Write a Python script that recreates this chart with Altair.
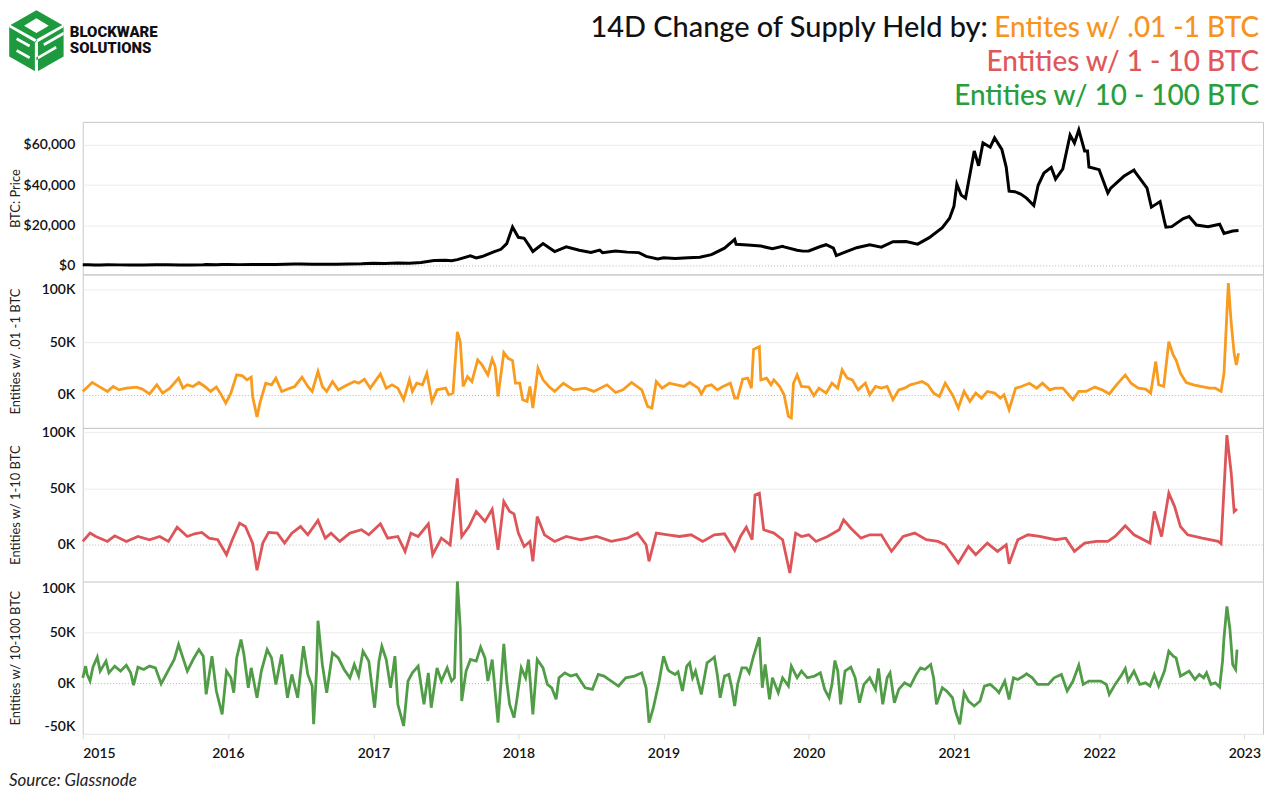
import altair as alt
import pandas as pd

# ---------------- data ----------------
# (decimal year, BTC price in USD)
PRICE = [
    (2015.00, 315), (2015.04, 270), (2015.08, 230), (2015.12, 240), (2015.17, 255), (2015.25, 245),
    (2015.33, 235), (2015.42, 225), (2015.50, 260), (2015.54, 285), (2015.58, 280), (2015.67, 230),
    (2015.75, 240), (2015.83, 320), (2015.85, 380), (2015.92, 360), (2015.96, 430), (2016.00, 430),
    (2016.08, 370), (2016.17, 435), (2016.25, 415), (2016.33, 450), (2016.46, 670), (2016.50, 670),
    (2016.58, 600), (2016.67, 575), (2016.75, 610), (2016.83, 700), (2016.92, 750), (2017.00, 1000),
    (2017.08, 970), (2017.17, 1190), (2017.25, 1080), (2017.33, 1420), (2017.42, 2400), (2017.50, 2500),
    (2017.54, 2300), (2017.58, 2850), (2017.67, 4700), (2017.71, 3700), (2017.75, 4400), (2017.83, 6700),
    (2017.88, 8000), (2017.92, 10800), (2017.96, 19100), (2018.00, 14000), (2018.04, 13500),
    (2018.08, 9200), (2018.10, 6900), (2018.17, 10900), (2018.25, 6900), (2018.33, 9200), (2018.42, 7500),
    (2018.50, 6400), (2018.56, 7600), (2018.58, 6300), (2018.67, 7100), (2018.75, 6600), (2018.83, 6350),
    (2018.88, 4500), (2018.96, 3200), (2019.00, 3800), (2019.08, 3450), (2019.17, 3850), (2019.25, 4100),
    (2019.33, 5350), (2019.42, 8550), (2019.49, 12900), (2019.50, 10500), (2019.58, 10100),
    (2019.67, 9600), (2019.75, 8300), (2019.82, 9500), (2019.83, 9200), (2019.92, 7500), (2019.96, 7100),
    (2020.00, 7200), (2020.08, 9400), (2020.12, 10300), (2020.17, 8600), (2020.19, 4900), (2020.25, 6600),
    (2020.33, 8800), (2020.42, 10200), (2020.50, 9100), (2020.58, 11800), (2020.67, 11900),
    (2020.75, 10600), (2020.83, 13800), (2020.92, 18800), (2020.97, 23500), (2021.00, 29400),
    (2021.02, 40500), (2021.05, 35000), (2021.08, 33500), (2021.14, 57000), (2021.17, 49600),
    (2021.20, 61000), (2021.25, 58900), (2021.28, 63500), (2021.33, 57800), (2021.36, 49000),
    (2021.38, 37000), (2021.42, 36700), (2021.46, 35500), (2021.50, 33500), (2021.55, 29800),
    (2021.58, 39900), (2021.62, 46000), (2021.67, 48800), (2021.70, 43000), (2021.75, 48100),
    (2021.80, 65000), (2021.83, 61000), (2021.86, 67500), (2021.90, 57000), (2021.92, 57000),
    (2021.93, 49000), (2022.00, 47700), (2022.06, 36000), (2022.08, 38500), (2022.17, 44400),
    (2022.24, 47500), (2022.25, 46300), (2022.33, 38500), (2022.36, 29000), (2022.42, 31800),
    (2022.45, 22000), (2022.46, 19000), (2022.50, 19300), (2022.58, 23300), (2022.62, 24300),
    (2022.67, 20100), (2022.75, 19300), (2022.83, 20500), (2022.86, 15900), (2022.92, 17100),
    (2022.96, 17400),
]

# (decimal year, 14D change in thousands of BTC) for entities with .01 - 1 BTC
SMALL = [
    (2015.00, 3.2), (2015.065, 11.7), (2015.105, 8.5), (2015.17, 3.2), (2015.21, 7.9), (2015.25, 4.7),
    (2015.30, 6.3), (2015.37, 7.3), (2015.41, 5.4), (2015.46, 0.9), (2015.51, 9.5), (2015.55, 1.6),
    (2015.60, 6.3), (2015.66, 15.8), (2015.69, 6.3), (2015.72, 9.5), (2015.76, 7.9), (2015.80, 11.7),
    (2015.84, 7.9), (2015.88, 3.2), (2015.92, 7.3), (2015.95, 0.9), (2015.985, -7.9), (2016.02, 1.6),
    (2016.06, 18.9), (2016.10, 18.0), (2016.13, 14.2), (2016.16, 16.7), (2016.17, -1.6), (2016.20, -21.1),
    (2016.22, -7.9), (2016.26, 11.0), (2016.30, 9.5), (2016.33, 15.8), (2016.37, 3.2), (2016.41, 5.4),
    (2016.46, 7.9), (2016.51, 16.7), (2016.55, 7.9), (2016.58, 3.2), (2016.62, 22.1), (2016.65, 7.9),
    (2016.68, 3.2), (2016.72, 12.6), (2016.76, 4.7), (2016.80, 7.9), (2016.87, 12.6), (2016.90, 11.0),
    (2016.94, 14.8), (2016.98, 6.3), (2017.05, 19.9), (2017.09, 6.3), (2017.13, 9.5), (2017.17, 6.3),
    (2017.21, -4.7), (2017.25, 14.2), (2017.27, 3.2), (2017.30, 11.0), (2017.34, 9.5), (2017.37, 20.5),
    (2017.405, -6.3), (2017.44, 4.7), (2017.50, 6.3), (2017.52, 0.0), (2017.55, 1.6), (2017.58, 59.9),
    (2017.60, 50.5), (2017.62, 7.9), (2017.65, 17.4), (2017.68, 12.6), (2017.72, 33.1), (2017.75, 28.4),
    (2017.79, 18.9), (2017.82, 33.8), (2017.84, 26.8), (2017.86, -1.6), (2017.90, 40.1), (2017.93, 34.7),
    (2017.96, 32.5), (2017.98, 11.0), (2018.01, 11.0), (2018.03, -4.7), (2018.06, -6.3), (2018.08, 7.9),
    (2018.10, -12.6), (2018.135, 25.2), (2018.17, 14.2), (2018.21, 7.9), (2018.25, 3.2), (2018.31, 11.0),
    (2018.38, 4.7), (2018.46, 6.3), (2018.52, 3.2), (2018.61, 9.5), (2018.67, 2.2), (2018.72, 4.7),
    (2018.78, 11.7), (2018.85, 4.7), (2018.89, -11.0), (2018.92, -12.6), (2018.95, 12.6), (2018.99, 6.3),
    (2019.04, 11.0), (2019.09, 9.5), (2019.14, 7.9), (2019.18, 11.7), (2019.24, 6.3), (2019.26, 0.9),
    (2019.29, 7.9), (2019.33, 9.5), (2019.37, 4.7), (2019.41, 7.9), (2019.46, 11.0), (2019.49, -3.2),
    (2019.51, -3.2), (2019.545, 14.8), (2019.58, 15.8), (2019.605, 6.3), (2019.62, 43.2), (2019.66, 45.7),
    (2019.67, 14.2), (2019.71, 15.8), (2019.74, 9.5), (2019.76, 14.2), (2019.80, 7.9), (2019.83, 0.0),
    (2019.86, -20.5), (2019.88, -22.1), (2019.895, 11.0), (2019.92, 18.9), (2019.95, 7.9), (2020.00, 7.3),
    (2020.035, -0.9), (2020.07, 6.3), (2020.12, 1.6), (2020.16, 11.0), (2020.20, 6.3), (2020.23, 23.7),
    (2020.265, 15.8), (2020.30, 14.2), (2020.34, 4.7), (2020.39, 11.0), (2020.42, 0.0), (2020.46, 7.9),
    (2020.50, 6.3), (2020.54, 7.9), (2020.58, -4.7), (2020.62, 4.7), (2020.66, 6.3), (2020.70, 9.5),
    (2020.74, 11.0), (2020.78, 12.6), (2020.82, 9.5), (2020.86, 1.6), (2020.90, -1.6), (2020.94, 11.0),
    (2020.99, 0.0), (2021.03, -12.6), (2021.07, 3.2), (2021.11, -6.3), (2021.15, 1.6), (2021.19, -3.2),
    (2021.23, 3.2), (2021.28, 1.6), (2021.32, -3.2), (2021.345, 0.0), (2021.38, -14.2), (2021.425, 6.3),
    (2021.465, 7.9), (2021.52, 11.0), (2021.57, 6.3), (2021.61, 11.0), (2021.66, 4.7), (2021.70, 6.3),
    (2021.75, 6.3), (2021.82, -4.7), (2021.86, 3.2), (2021.91, 3.2), (2021.97, 7.3), (2022.02, 4.7),
    (2022.07, 0.9), (2022.12, 9.5), (2022.18, 18.9), (2022.22, 11.0), (2022.27, 6.3), (2022.32, 5.4),
    (2022.355, 1.6), (2022.39, 31.6), (2022.41, 9.5), (2022.445, 7.9), (2022.48, 50.5), (2022.51, 37.9),
    (2022.53, 33.1), (2022.56, 20.5), (2022.60, 11.7), (2022.65, 9.5), (2022.70, 7.9), (2022.76, 6.3),
    (2022.80, 6.3), (2022.84, 3.2), (2022.86, 20.5), (2022.89, 106.3), (2022.91, 67.8), (2022.93, 39.4),
    (2022.945, 28.4), (2022.96, 39.4),
]

# entities with 1 - 10 BTC (thousands of BTC)
MID = [
    (2015.00, 2.7), (2015.05, 10.1), (2015.09, 7.1), (2015.17, 2.7), (2015.22, 7.7), (2015.30, 2.7),
    (2015.38, 7.1), (2015.46, 4.2), (2015.53, 7.1), (2015.59, 2.7), (2015.65, 15.4), (2015.72, 7.1),
    (2015.77, 9.5), (2015.82, 10.7), (2015.87, 5.6), (2015.93, 4.2), (2015.99, -9.2), (2016.03, 4.2),
    (2016.08, 19.0), (2016.12, 16.0), (2016.17, 1.2), (2016.20, -23.1), (2016.24, 1.2), (2016.28, 10.7),
    (2016.34, 10.1), (2016.39, 1.2), (2016.44, 10.1), (2016.50, 16.0), (2016.55, 8.6), (2016.62, 21.4),
    (2016.67, 5.6), (2016.71, 10.1), (2016.77, 2.7), (2016.84, 10.1), (2016.92, 13.1), (2016.97, 8.6),
    (2017.05, 18.4), (2017.10, 5.6), (2017.17, 7.1), (2017.22, -6.2), (2017.26, 10.1), (2017.31, 7.1),
    (2017.38, 18.4), (2017.41, -9.2), (2017.47, 5.6), (2017.53, -0.3), (2017.58, 59.0), (2017.61, 7.1),
    (2017.66, 16.0), (2017.71, 29.4), (2017.77, 20.5), (2017.82, 31.4), (2017.86, -4.7), (2017.90, 38.3),
    (2017.94, 29.4), (2017.97, 27.3), (2018.00, 10.1), (2018.04, -1.8), (2018.08, 2.7), (2018.10, -15.1),
    (2018.13, 24.9), (2018.18, 8.6), (2018.25, 2.7), (2018.33, 7.1), (2018.43, 4.2), (2018.54, 7.1),
    (2018.64, 2.7), (2018.75, 5.6), (2018.82, 10.1), (2018.88, -0.3), (2018.90, -15.1), (2018.95, 10.1),
    (2019.03, 8.6), (2019.11, 7.1), (2019.19, 8.6), (2019.27, 2.7), (2019.35, 8.6), (2019.42, 9.5),
    (2019.49, -5.3), (2019.53, 7.1), (2019.57, 15.4), (2019.61, 4.2), (2019.63, 44.2), (2019.66, 45.7),
    (2019.69, 13.1), (2019.76, 10.1), (2019.82, 4.2), (2019.87, -25.5), (2019.91, 10.1), (2019.95, 7.1),
    (2020.00, 8.6), (2020.05, 2.7), (2020.13, 7.1), (2020.21, 13.1), (2020.24, 22.0), (2020.29, 14.5),
    (2020.36, 5.6), (2020.42, 8.6), (2020.50, 8.6), (2020.57, -6.2), (2020.65, 7.1), (2020.73, 10.1),
    (2020.81, 4.2), (2020.89, 2.7), (2020.94, -0.3), (2021.03, -16.6), (2021.10, -1.8), (2021.15, -9.2),
    (2021.23, 1.2), (2021.30, -6.2), (2021.36, -0.3), (2021.38, -17.2), (2021.44, 4.2), (2021.51, 8.6),
    (2021.59, 7.1), (2021.70, 4.2), (2021.77, 5.6), (2021.83, -6.2), (2021.90, 1.2), (2021.98, 2.7),
    (2022.06, 2.7), (2022.11, 7.1), (2022.18, 16.6), (2022.24, 8.6), (2022.35, 1.2), (2022.38, 29.4),
    (2022.43, 7.1), (2022.48, 45.7), (2022.52, 33.8), (2022.56, 16.0), (2022.61, 8.6), (2022.71, 5.6),
    (2022.82, 2.7), (2022.84, 0.6), (2022.88, 97.6), (2022.91, 63.5), (2022.93, 29.4), (2022.95, 31.7),
]

# entities with 10 - 100 BTC (thousands of BTC)
LARGE = [
    (2015.00, 5.2), (2015.02, 16.7), (2015.03, 8.5), (2015.05, 2.0), (2015.07, 15.7), (2015.10, 25.5),
    (2015.12, 11.8), (2015.16, 21.6), (2015.18, 10.1), (2015.22, 16.7), (2015.26, 11.8), (2015.30, 17.6),
    (2015.33, 10.1), (2015.35, -2.0), (2015.38, 15.7), (2015.42, 13.4), (2015.46, 16.7), (2015.50, 15.0),
    (2015.54, -0.7), (2015.58, 10.1), (2015.63, 23.2), (2015.66, 37.9), (2015.69, 24.8), (2015.72, 11.8),
    (2015.76, 23.2), (2015.80, 33.0), (2015.83, 26.5), (2015.85, -11.1), (2015.89, 26.5), (2015.92, -7.8),
    (2015.96, -30.7), (2015.99, 11.8), (2016.02, 5.2), (2016.04, -9.5), (2016.06, 24.8), (2016.09, 42.8),
    (2016.11, 28.1), (2016.14, -4.6), (2016.16, 15.0), (2016.20, -14.4), (2016.23, 11.8), (2016.27, 33.0),
    (2016.30, 24.8), (2016.33, -1.3), (2016.37, 28.1), (2016.41, -14.4), (2016.44, 8.5), (2016.48, -14.4),
    (2016.52, 36.3), (2016.55, 8.5), (2016.58, -2.9), (2016.59, -40.5), (2016.61, 11.8), (2016.62, 61.4),
    (2016.65, 18.3), (2016.68, -9.5), (2016.72, 29.7), (2016.76, 24.8), (2016.80, 13.4), (2016.84, 5.2),
    (2016.87, 18.3), (2016.90, 6.9), (2016.93, 31.4), (2016.97, 21.6), (2017.01, -24.2), (2017.04, 21.6),
    (2017.06, 36.3), (2017.09, 23.2), (2017.12, -4.6), (2017.15, 26.5), (2017.17, -20.9), (2017.21, -42.2),
    (2017.24, 2.0), (2017.27, 10.1), (2017.31, 16.7), (2017.35, -20.9), (2017.38, 10.1), (2017.40, -24.2),
    (2017.44, 15.0), (2017.47, 2.0), (2017.51, 15.0), (2017.54, 2.0), (2017.56, 5.2), (2017.58, 100.0),
    (2017.60, 54.2), (2017.61, -17.6), (2017.64, 11.8), (2017.67, 23.2), (2017.71, 21.6), (2017.74, 35.3),
    (2017.77, 24.8), (2017.79, 2.0), (2017.82, 23.2), (2017.86, -38.9), (2017.90, 38.6), (2017.92, 2.0),
    (2017.94, -20.9), (2017.97, -34.0), (2017.99, -16.0), (2018.02, 15.0), (2018.05, 5.2), (2018.07, 23.2),
    (2018.10, -30.7), (2018.13, 23.2), (2018.17, 15.0), (2018.20, -1.3), (2018.23, -4.6), (2018.26, -16.0),
    (2018.28, 5.2), (2018.32, 10.1), (2018.36, 6.9), (2018.40, 8.5), (2018.46, -4.6), (2018.51, -6.2),
    (2018.55, 8.5), (2018.59, 6.9), (2018.64, 2.0), (2018.69, -2.9), (2018.74, 5.2), (2018.80, 6.9),
    (2018.85, 10.1), (2018.88, -4.6), (2018.90, -38.9), (2018.93, -24.2), (2018.97, 2.0), (2019.00, 26.5),
    (2019.03, 13.4),
    (2019.04, 11.8), (2019.08, 8.5), (2019.10, 11.1), (2019.13, -7.8), (2019.16, 16.7), (2019.18, 19.9),
    (2019.20, 5.2), (2019.22, 11.8), (2019.26, -11.1), (2019.30, 19.9), (2019.33, 23.2), (2019.35, 25.5),
    (2019.37, 8.5), (2019.39, -14.4), (2019.42, 6.9), (2019.45, 8.5), (2019.47, -4.6), (2019.49, -22.5),
    (2019.51, -1.3), (2019.54, 15.0), (2019.57, 15.0), (2019.59, 10.1), (2019.62, 26.5), (2019.66, 45.1),
    (2019.68, -4.6), (2019.70, 18.3), (2019.73, -16.0), (2019.75, 5.2), (2019.79, -9.5), (2019.82, 5.2),
    (2019.86, -2.9), (2019.88, 16.7), (2019.92, 5.2), (2019.95, 11.8), (2019.99, 5.2), (2020.04, 6.9),
    (2020.08, 10.1), (2020.11, -6.2), (2020.14, -14.4), (2020.16, -1.3), (2020.18, 22.2), (2020.20, 11.8),
    (2020.22, -20.9), (2020.25, 11.8), (2020.29, 15.7), (2020.32, 5.2), (2020.35, -19.3), (2020.38, -1.3),
    (2020.42, 5.2), (2020.46, -6.2), (2020.48, 14.4), (2020.51, -20.9), (2020.54, 5.2), (2020.56, 10.1),
    (2020.59, -19.3), (2020.62, -6.2), (2020.66, 0.3), (2020.70, -2.9), (2020.74, 8.5), (2020.77, 15.0),
    (2020.80, 13.4), (2020.84, 18.3), (2020.86, 5.2), (2020.88, -20.9), (2020.92, -4.6), (2020.95, -7.8),
    (2020.99, -14.4), (2021.01, -27.5), (2021.04, -40.5), (2021.07, -9.5), (2021.10, -17.6),
    (2021.14, -22.5), (2021.18, -17.6), (2021.21, -2.9), (2021.25, -1.3), (2021.29, -6.2), (2021.31, -9.5),
    (2021.35, 2.0), (2021.38, -16.0), (2021.41, 5.2), (2021.44, 3.6), (2021.48, 6.9), (2021.50, 9.2),
    (2021.54, 5.2), (2021.575, -1.3), (2021.61, -1.3), (2021.65, -1.3), (2021.69, 5.2), (2021.74, 8.5),
    (2021.78, -7.8), (2021.82, 2.0), (2021.86, 17.6), (2021.89, -1.3), (2021.93, 2.0), (2021.97, 2.0),
    (2022.01, 2.0), (2022.05, -1.3), (2022.07, -11.1), (2022.11, -1.3), (2022.15, 6.9), (2022.18, 14.4),
    (2022.20, 2.0), (2022.24, 11.8), (2022.28, -1.3), (2022.32, 0.3), (2022.35, -2.9), (2022.38, 8.5),
    (2022.41, -2.9), (2022.45, 11.8), (2022.48, 31.4), (2022.51, 26.5), (2022.53, 24.8), (2022.56, 6.9),
    (2022.58, 8.5), (2022.62, 11.8), (2022.66, 3.6), (2022.69, 8.5), (2022.72, 5.2), (2022.74, 10.1),
    (2022.77, -1.3), (2022.80, 0.3), (2022.83, -3.9), (2022.85, 21.6), (2022.86, 44.4), (2022.88, 75.5),
    (2022.90, 54.2), (2022.92, 18.3), (2022.94, 13.4), (2022.95, 33.0),
]

YEAR_TICKS = list(range(2015, 2024))

TITLE_LINE1_BLACK = "14D Change of Supply Held by:"
TITLE_LINE1_ORANGE = "Entites w/ .01 -1 BTC"
TITLE_LINE2 = "Entities w/ 1 - 10 BTC"
TITLE_LINE3 = "Entities w/ 10 - 100 BTC"
LOGO_1 = "BLOCKWARE"
LOGO_2 = "SOLUTIONS"
SOURCE = "Source: Glassnode"

Y_TITLES = ["BTC: Price", "Entities w/ .01 -1 BTC", "Entities w/ 1-10 BTC", "Entities w/ 10-100 BTC"]


def to_df(pairs, scale):
    base = pd.Timestamp("2015-01-01")
    return pd.DataFrame({
        "date": [base + pd.Timedelta(days=(p[0] - 2015) * 365.25) for p in pairs],
        "value": [p[1] * scale for p in pairs],
    })


price_df = to_df(PRICE, 1)
small_df = to_df(SMALL, 1000)
mid_df = to_df(MID, 1000)
large_df = to_df(LARGE, 1000)

W = 1184
X_DOMAIN = [alt.DateTime(year=2015, month=1, date=1), alt.DateTime(year=2023, month=2, date=17)]
FONT = "Lato"

grid_color = {"condition": {"test": "datum.value === 0", "value": "#b5b5b5"}, "value": "#ececec"}
grid_dash = {"condition": {"test": "datum.value === 0", "value": [1, 2]}, "value": []}


def y_axis(title, values, fmt=None, expr=None, flush=False):
    kw = dict(
        title=title, values=values, labelFont=FONT, labelFontSize=14, labelFontWeight=600,
        labelColor="#111111", labelPadding=8, ticks=False, domain=False, grid=True,
        gridColor=grid_color, gridDash=grid_dash, titleFont=FONT, titleFontSize=13,
        titleFontWeight="normal", titleColor="#222222", titlePadding=2,
        minExtent=58, maxExtent=58, labelFlush=flush,
    )
    if fmt is not None:
        kw["format"] = fmt
    if expr is not None:
        kw["labelExpr"] = expr
    return alt.Axis(**kw)


x_none = alt.X("date:T", scale=alt.Scale(domain=X_DOMAIN), axis=None)
x_bottom = alt.X(
    "date:T", scale=alt.Scale(domain=X_DOMAIN),
    axis=alt.Axis(
        values=[alt.DateTime(year=y, month=1, date=1) for y in YEAR_TICKS], format="%Y",
        labelFont=FONT, labelFontSize=14, labelFontWeight=600, labelColor="#111111",
        labelAlign={"condition": {"test": "year(datum.value) == 2015", "value": "left"}, "value": "center"},
        tickColor="#dddddd", tickSize=5, labelPadding=8, domain=False, grid=False, title=None,
    ),
)

one = pd.DataFrame({"k": [0]})


def label(text, x, y, size, color, align="left", weight="normal", style="normal", font=FONT):
    return alt.Chart(one).mark_text(
        text=text, align=align, baseline="alphabetic", font=font, fontSize=size,
        color=color, fontWeight=weight, fontStyle=style,
    ).encode(x=alt.value(x), y=alt.value(y))


# logo: green isometric cube with white gaps (filled shapes only, no strokes)
HEX = "M0,-1 L0.88,-0.5 L0.88,0.5 L0,1 L-0.88,0.5 L-0.88,-0.5 Z"
HEX_WHITE = (
    "M-0.05,0 L0.05,0 L0.05,1 L-0.05,1 Z "
    "M0.024,-0.044 L-0.88,-0.55 L-0.88,-0.45 L-0.024,0.044 Z "
    "M-0.024,-0.044 L0.88,-0.55 L0.88,-0.45 L0.024,0.044 Z "
    "M-0.66,-0.04 L-0.24,0.2 L-0.2,0.12 L-0.62,-0.12 Z "
    "M-0.66,0.34 L-0.24,0.58 L-0.2,0.5 L-0.62,0.26 Z "
    "M0.26,0.16 L0.88,-0.2 L0.88,-0.3 L0.22,0.08 Z "
    "M0,0.62 L0.66,0.24 L0.62,0.16 L0,0.52 Z "
    "M0,-0.74 L0.4,-0.5 L0,-0.26 L-0.4,-0.5 Z"
)
LOGO_X, LOGO_Y, LOGO_SIZE = -46.5, -81, 3844

logo_hex = alt.Chart(one).mark_point(shape=HEX, size=LOGO_SIZE, filled=True, fill="#1d9a3e",
                                     opacity=1, strokeOpacity=0).encode(x=alt.value(LOGO_X), y=alt.value(LOGO_Y))
logo_white = alt.Chart(one).mark_point(shape=HEX_WHITE, size=LOGO_SIZE, filled=True, fill="white",
                                       opacity=1, strokeOpacity=0).encode(x=alt.value(LOGO_X), y=alt.value(LOGO_Y))

price_line = alt.Chart(price_df).mark_line(color="#000000", strokeWidth=3).encode(
    x=x_none,
    y=alt.Y("value:Q", scale=alt.Scale(domain=[-4500, 71500], nice=False, zero=False),
            axis=y_axis(Y_TITLES[0], [0, 20000, 40000, 60000], fmt="$,.0f")),
)

top = alt.layer(
    price_line,
    logo_hex, logo_white,
    label(LOGO_1, -13, -85, 15, "#111111", weight=900, font="Roboto"),
    label(LOGO_2, -13, -69, 15, "#111111", weight=900, font="Roboto"),
    label(TITLE_LINE1_BLACK, 908, -85, 29, "#111111", align="right", weight=500),
    label(TITLE_LINE1_ORANGE, 1180, -85, 28, "#F7941D", align="right", weight=500),
    label(TITLE_LINE2, 1180, -51, 28, "#E0575B", align="right", weight=500),
    label(TITLE_LINE3, 1180, -17, 28, "#2A9E3C", align="right", weight=500),
).properties(width=W, height=153)

k_expr = "datum.value / 1000 + 'K'"

small = alt.Chart(small_df).mark_line(color="#F99B1E", strokeWidth=2.8).encode(
    x=x_none,
    y=alt.Y("value:Q", scale=alt.Scale(domain=[-31500, 114500], nice=False, zero=False),
            axis=y_axis(Y_TITLES[1], [0, 50000, 100000], expr=k_expr)),
).properties(width=W, height=154)

mid = alt.Chart(mid_df).mark_line(color="#DE5559", strokeWidth=2.8).encode(
    x=x_none,
    y=alt.Y("value:Q", scale=alt.Scale(domain=[-33000, 104000], nice=False, zero=False),
            axis=y_axis(Y_TITLES[2], [0, 50000, 100000], expr=k_expr)),
).properties(width=W, height=154)

large_line = alt.Chart(large_df).mark_line(color="#519C47", strokeWidth=2.8).encode(
    x=x_bottom,
    y=alt.Y("value:Q", scale=alt.Scale(domain=[-50000, 100000], nice=False, zero=False),
            axis=y_axis(Y_TITLES[3], [-50000, 0, 50000, 100000], expr=k_expr, flush=True)),
)

bottom = alt.layer(
    large_line,
    label(SOURCE, -74, 205, 17, "#222222", style="italic"),
).properties(width=W, height=153)

chart = alt.vconcat(top, small, mid, bottom, spacing=0, bounds="flush").properties(
    padding={"left": 0, "top": 0, "right": 0, "bottom": 0}, background="white"
).configure_view(stroke="#c8c8c8", strokeWidth=1)

chart.save("out.html", embed_options={"renderer": "svg", "actions": False})
